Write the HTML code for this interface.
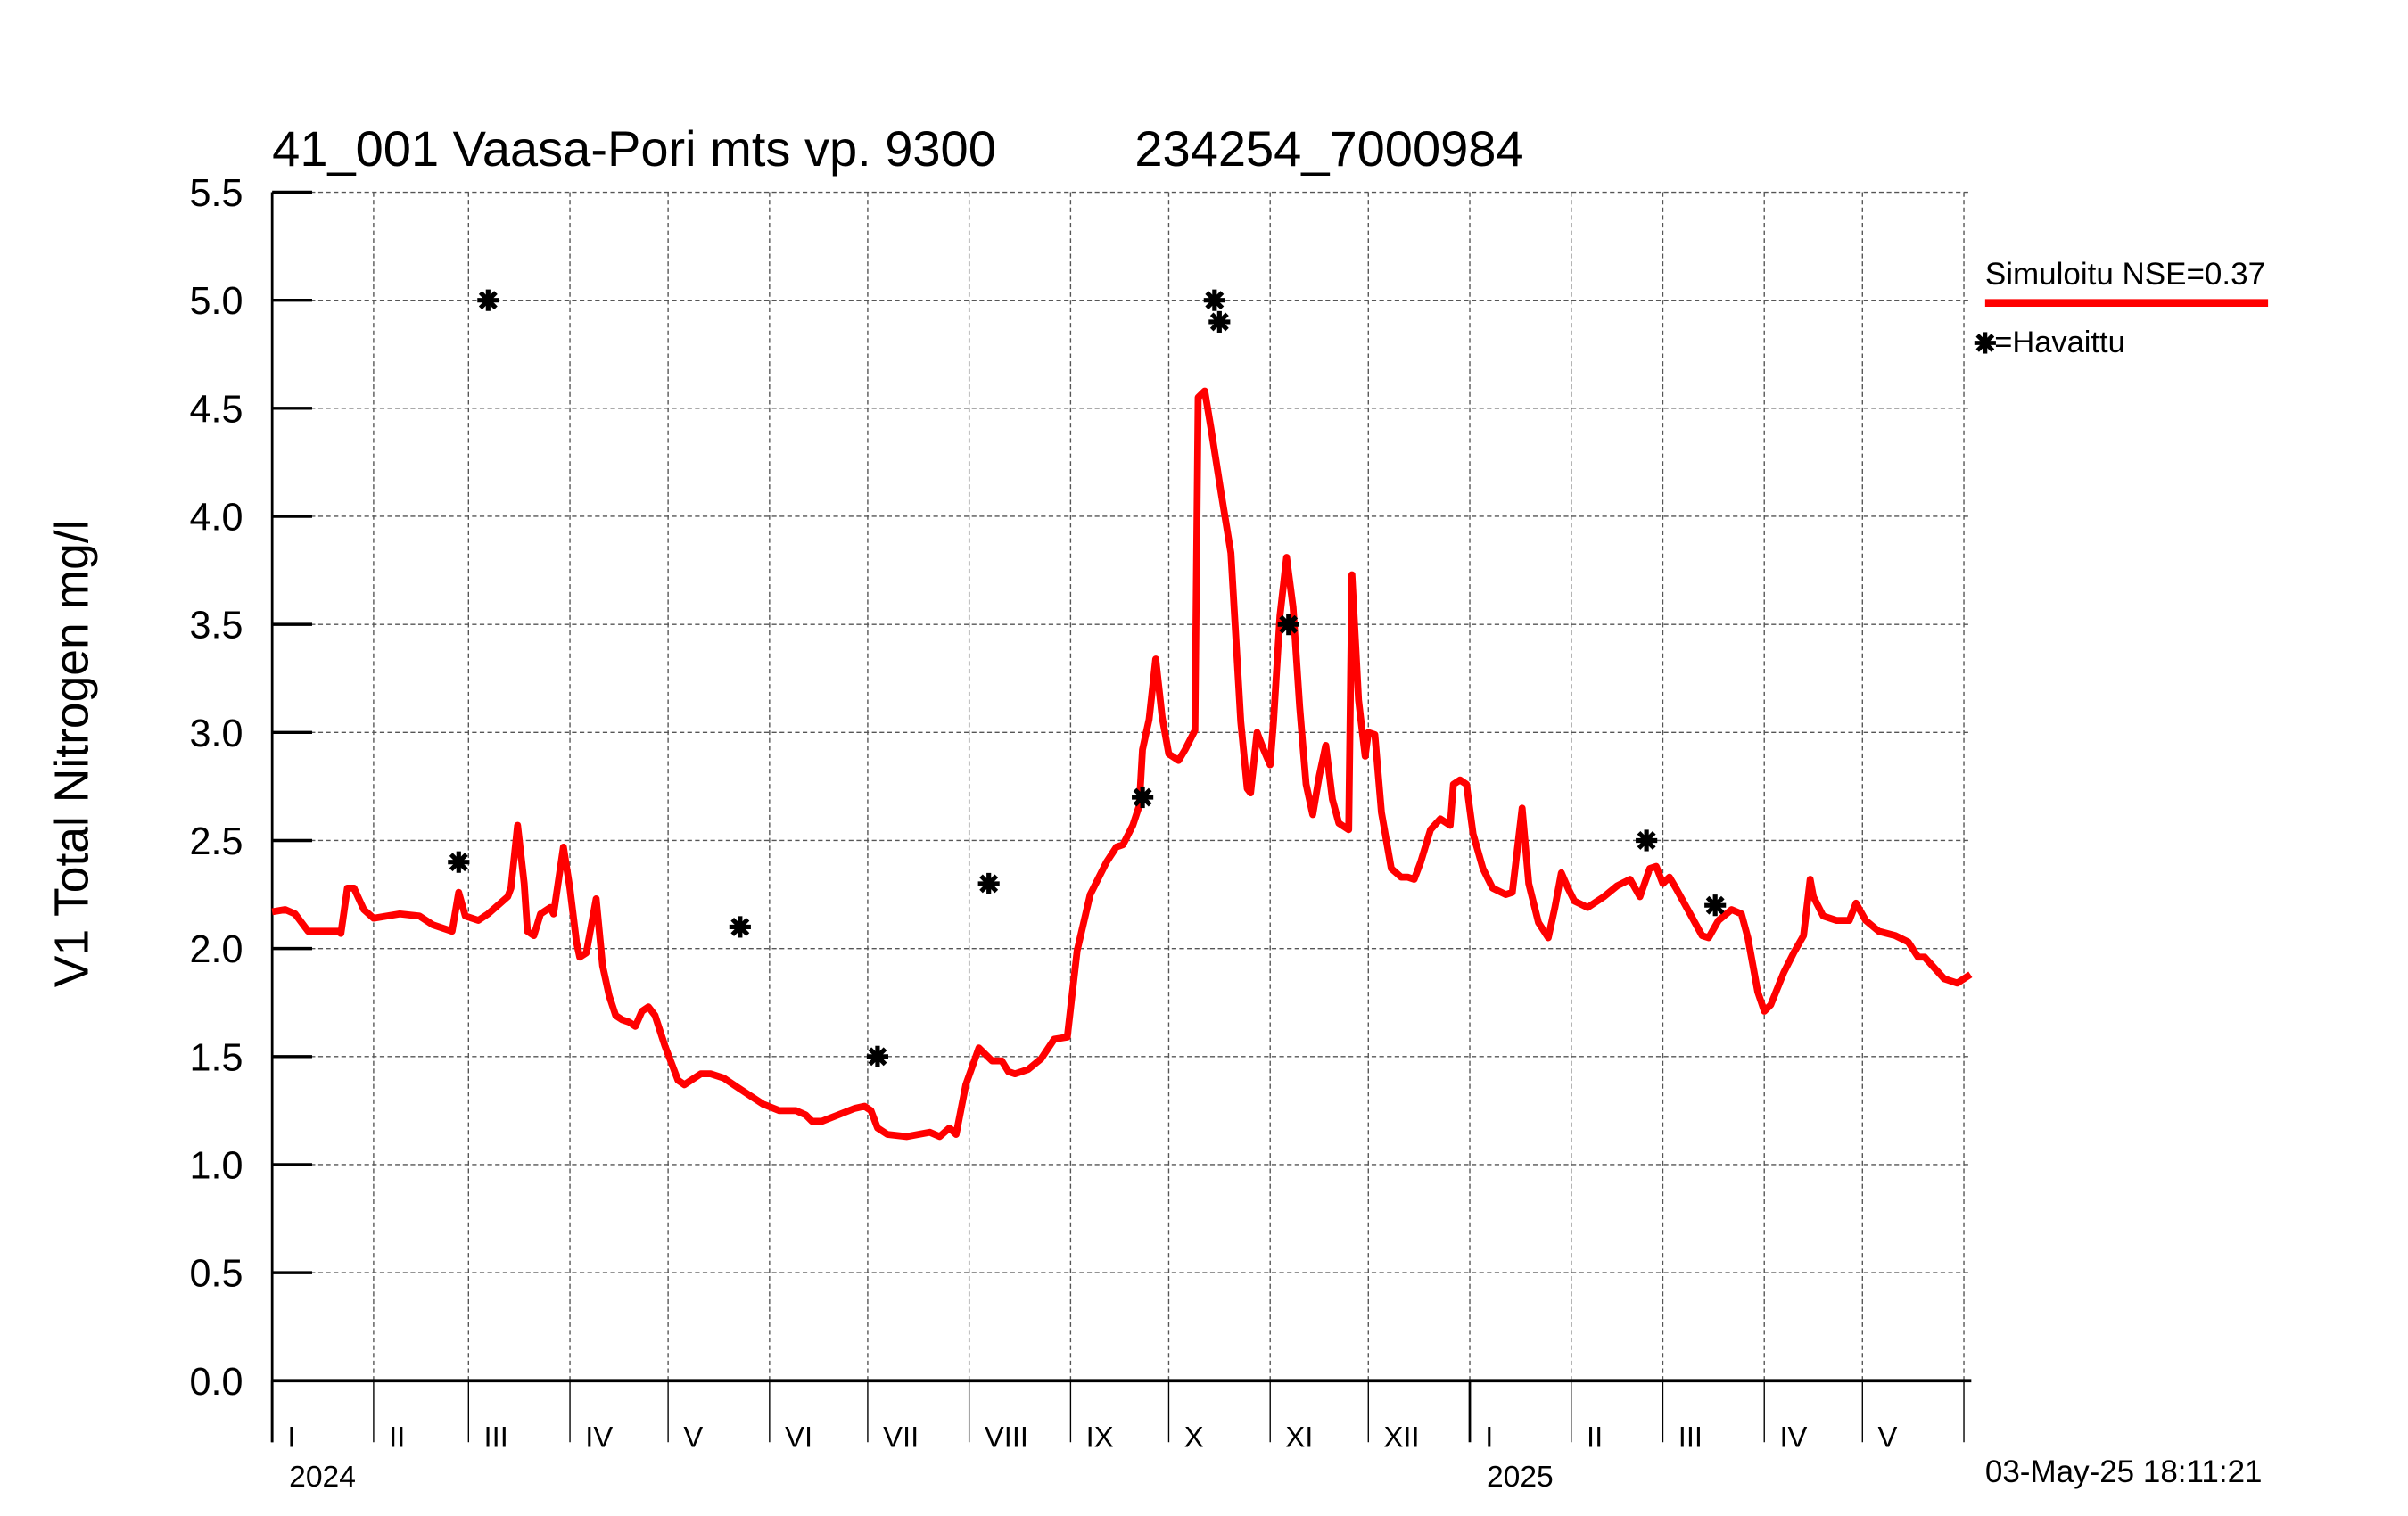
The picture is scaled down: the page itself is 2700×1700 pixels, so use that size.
<!DOCTYPE html>
<html><head><meta charset="utf-8"><style>
html,body{margin:0;padding:0;background:#fff;}
svg{display:block;font-family:"Liberation Sans",sans-serif;}
</style></head><body>
<svg id="chart" width="2700" height="1700" viewBox="0 0 1566 986" preserveAspectRatio="none" xmlns="http://www.w3.org/2000/svg">
<rect width="1566" height="986" fill="#fff"/>
<text x="177" y="108" font-size="32.5">41_001 Vaasa-Pori mts vp. 9300</text>
<text x="738" y="108" font-size="32.5">234254_7000984</text>
<text transform="translate(57,490) rotate(-90)" text-anchor="middle" font-size="31">V1 Total Nitrogen mg/l</text>
<g id="grid"></g>
<g id="axes"></g>
<g id="series"></g>
<g id="obs"></g>
<g>
<text x="1291" y="185" font-size="20.3">Simuloitu NSE=0.37</text>
<line x1="1291" y1="197" x2="1475" y2="197" stroke="#ff0000" stroke-width="5"/>
<g stroke="#000" stroke-width="2.8">
<line x1="1291" y1="216" x2="1291" y2="230"/><line x1="1284" y1="223" x2="1298" y2="223"/><line x1="1286" y1="218" x2="1296" y2="228"/><line x1="1286" y1="228" x2="1296" y2="218"/></g>
<text x="1297" y="229" font-size="20">=Havaittu</text>
</g>
<text x="1291" y="964" font-size="20.3">03-May-25 18:11:21</text>
</svg>
<script>
const simDays = [0,4,7,11,16,20,21,23,25,28,31,39,45,49,55,57,59,63,66,72,73,75,77,78,80,82,85,86,89,91,93,94,96,99,101,103,105,107,109,111,113,115,117,120,124,126,128,131,134,138,142,146,150,155,160,163,165,168,173,178,181,183,185,188,194,201,204,207,209,212,216,218,220,223,225,227,231,235,239,243,246,250,255,258,260,263,265,266,268,270,272,274,277,279,282,283,285,287,290,293,296,298,299,301,303,305,306,308,310,312,314,316,318,320,322,324,326,329,330,332,334,335,337,339,342,345,347,349,351,354,357,360,361,363,365,367,370,373,377,379,382,384,387,390,392,394,396,398,402,407,411,415,418,421,423,425,427,429,433,437,439,442,446,449,451,454,456,458,462,465,468,470,471,474,478,482,484,487,491,496,500,503,505,508,511,515,519];
const simValues = [2.17,2.18,2.16,2.08,2.08,2.08,2.07,2.28,2.28,2.18,2.14,2.16,2.15,2.11,2.08,2.26,2.15,2.13,2.16,2.24,2.28,2.57,2.30,2.08,2.06,2.16,2.19,2.16,2.47,2.28,2.03,1.96,1.98,2.23,1.92,1.78,1.69,1.67,1.66,1.64,1.71,1.73,1.69,1.55,1.39,1.37,1.39,1.42,1.42,1.40,1.36,1.32,1.28,1.25,1.25,1.23,1.20,1.20,1.23,1.26,1.27,1.25,1.17,1.14,1.13,1.15,1.13,1.17,1.14,1.37,1.54,1.51,1.48,1.48,1.43,1.42,1.44,1.49,1.58,1.59,1.99,2.25,2.40,2.47,2.48,2.57,2.66,2.92,3.06,3.34,3.07,2.90,2.87,2.92,3.01,4.55,4.58,4.40,4.11,3.83,3.05,2.74,2.72,3.00,2.92,2.85,3.05,3.54,3.81,3.58,3.12,2.76,2.62,2.80,2.94,2.69,2.58,2.55,3.73,3.15,2.89,3.00,2.99,2.63,2.37,2.33,2.33,2.32,2.40,2.55,2.60,2.57,2.76,2.78,2.76,2.53,2.37,2.28,2.25,2.26,2.65,2.30,2.12,2.05,2.19,2.35,2.28,2.22,2.19,2.24,2.29,2.32,2.24,2.37,2.38,2.30,2.33,2.28,2.17,2.06,2.05,2.13,2.18,2.16,2.05,1.80,1.71,1.74,1.89,1.98,2.06,2.32,2.24,2.15,2.13,2.13,2.21,2.13,2.08,2.06,2.03,1.96,1.96,1.91,1.86,1.84,1.88];
const obsDays = [57,66,143,185,219,266,288,289.5,310.6,420,441];
const obsValues = [2.4,5.0,2.1,1.5,2.3,2.7,5.0,4.9,3.5,2.5,2.2];
const yTicks = [0,0.5,1,1.5,2,2.5,3,3.5,4,4.5,5,5.5];
const yTickLabels = ["0.0","0.5","1.0","1.5","2.0","2.5","3.0","3.5","4.0","4.5","5.0","5.5"];
const monthStartDays = [0,31,60,91,121,152,182,213,244,274,305,335,366,397,425,456,486,517];
const monthLabels = ["I","II","III","IV","V","VI","VII","VIII","IX","X","XI","XII","I","II","III","IV","V"];
const yearStartDays = [0,366];
const yearLabels = ["2024","2025"];

const X0=177, X1=1281, Y0=898, Y1=125, PXD=2.128;
function xs(d){return X0+d*PXD;}
function ys(v){return Y0-(v/5.5)*(Y0-Y1);}
const NS="http://www.w3.org/2000/svg";
function mk(tag,attrs,parent){const e=document.createElementNS(NS,tag);for(const k in attrs)e.setAttribute(k,attrs[k]);parent.appendChild(e);return e;}
const grid=document.getElementById('grid'), axes=document.getElementById('axes'), series=document.getElementById('series'), obs=document.getElementById('obs');

yTicks.forEach((t,i)=>{
  const y=ys(t);
  const g=mk('line',{x1:X0,y1:y,x2:X1,y2:y,stroke:'#555','stroke-width':0.8,'stroke-dasharray':'3,2'},grid);
  
  
  const tk=mk('line',{x1:X0,y1:y,x2:X0+26,y2:y,stroke:'#000','stroke-width':2},axes);
  
  
  const lb=mk('text',{x:158,y:y+9,'text-anchor':'end','font-size':25},axes);
  lb.textContent=yTickLabels[i];
  
  
});
monthStartDays.forEach((d,i)=>{
  const x=xs(d);
  if(i>0){
    const g=mk('line',{x1:x,y1:Y1,x2:x,y2:Y0,stroke:'#555','stroke-width':0.8,'stroke-dasharray':'3,2'},grid);
    
    
  }
  const t=mk('line',{x1:x,y1:Y0,x2:x,y2:938,stroke:'#000','stroke-width':(yearStartDays.includes(d)?1.6:0.8)},axes);
  
  
  if(i<monthLabels.length){
    const lb=mk('text',{x:x+10,y:941,'font-size':19},axes);
    lb.textContent=monthLabels[i];
    
    
  }
});
yearStartDays.forEach((d,i)=>{
  const lb=mk('text',{x:xs(d)+11,y:967,'font-size':19.5},axes);
  lb.textContent=yearLabels[i];
  
  
});
const ya=mk('line',{x1:X0,y1:Y1,x2:X0,y2:938,stroke:'#000','stroke-width':1.6},axes);


const xa=mk('line',{x1:X0,y1:Y0,x2:X1+1,y2:Y0,stroke:'#000','stroke-width':2.2},axes);



const pts=simDays.map((d,i)=>xs(d).toFixed(1)+','+ys(simValues[i]).toFixed(1)).join(' ');
const pl=mk('polyline',{points:pts,fill:'none',stroke:'#ff0000','stroke-width':4.5,'stroke-linejoin':'round'},series);



obsDays.forEach((d,i)=>{
  const x=xs(d), y=ys(obsValues[i]);
  const g=mk('g',{stroke:'#000','stroke-width':3},obs);
  
  
  mk('line',{x1:x,y1:y-7,x2:x,y2:y+7},g);
  mk('line',{x1:x-7,y1:y,x2:x+7,y2:y},g);
  mk('line',{x1:x-5,y1:y-5,x2:x+5,y2:y+5},g);
  mk('line',{x1:x-5,y1:y+5,x2:x+5,y2:y-5},g);
});
</script>
</body></html>
